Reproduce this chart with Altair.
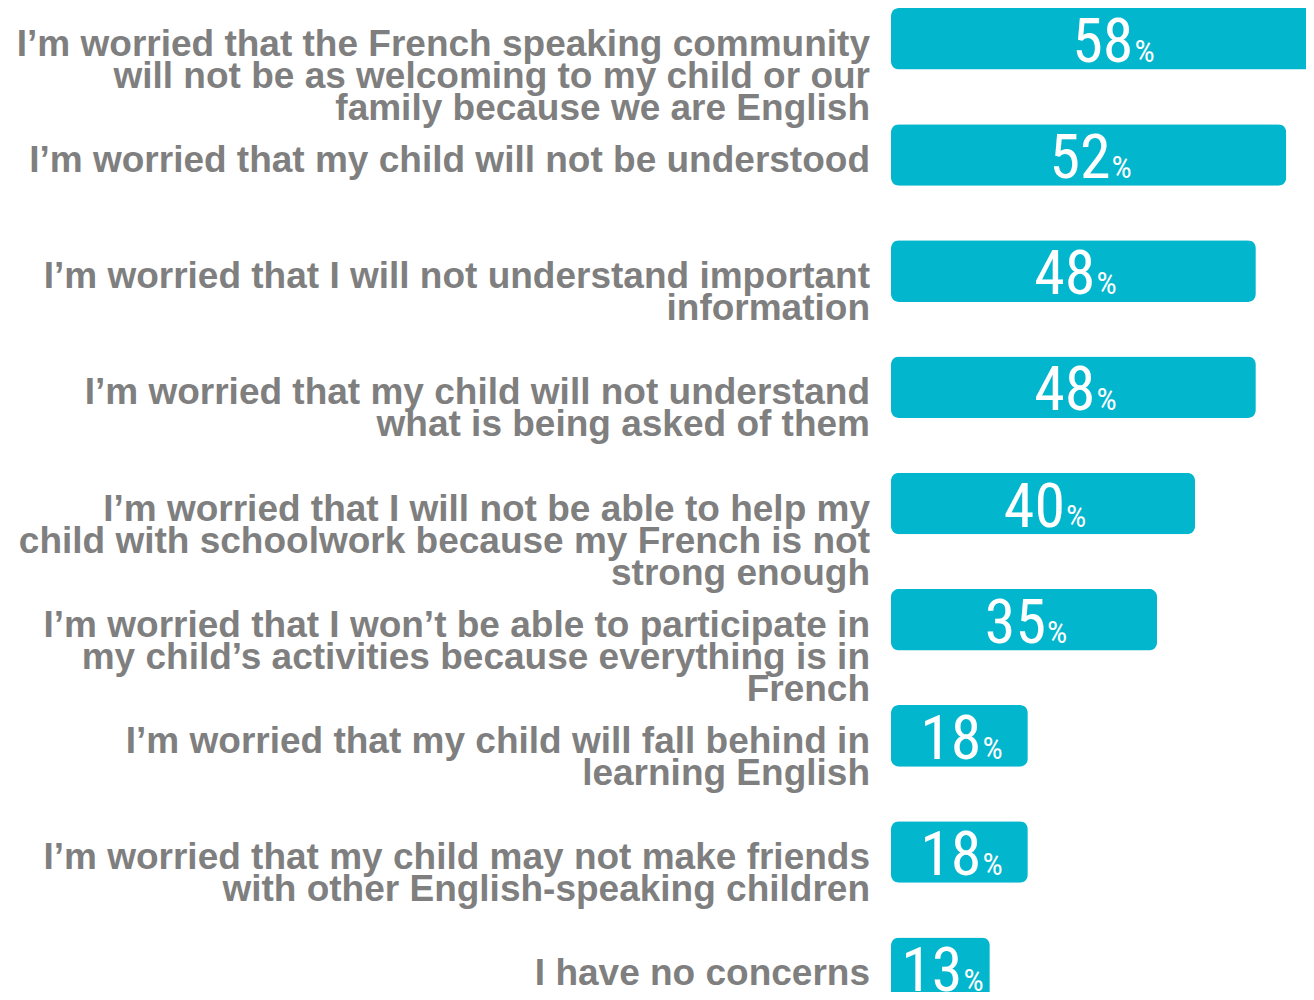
import altair as alt
import pandas as pd

labels = [
    "I’m worried that the French speaking community\nwill not be as welcoming to my child or our\nfamily because we are English",
    "I’m worried that my child will not be understood",
    "I’m worried that I will not understand important\ninformation",
    "I’m worried that my child will not understand\nwhat is being asked of them",
    "I’m worried that I will not be able to help my\nchild with schoolwork because my French is not\nstrong enough",
    "I’m worried that I won’t be able to participate in\nmy child’s activities because everything is in\nFrench",
    "I’m worried that my child will fall behind in\nlearning English",
    "I’m worried that my child may not make friends\nwith other English-speaking children",
    "I have no concerns",
]
values = [58, 52, 48, 48, 40, 35, 18, 18, 13]

df = pd.DataFrame({"key": list(range(len(labels))), "label": labels, "value": values})

BAR = "#02B6CD"
GRAY = "#7F7F7F"
NUMFONT = "Roboto Condensed"

y = alt.Y("key:O", axis=None, sort=None,
          scale=alt.Scale(paddingInner=0.47, paddingOuter=0, range=[0, 991]))
xscale = alt.Scale(domain=[0, 54.6], nice=False, zero=True)

base = alt.Chart(df).transform_calculate(
    half="datum.value / 2", num="toString(datum.value)"
)

bars = base.mark_bar(cornerRadius=8, color=BAR).encode(
    x=alt.X("value:Q", axis=None, scale=xscale),
    y=y,
)

label_text = base.mark_text(
    align="right", baseline="middle", lineBreak="\n",
    font="Liberation Sans", fontWeight="bold", fontSize=37, lineHeight=32,
    color=GRAY, dy=6,
).encode(
    x=alt.value(-21),
    y=y,
    text="label:N",
)

num_text = base.mark_text(
    align="right", baseline="alphabetic", font=NUMFONT, fontSize=62,
    color="white", dx=22, dy=23,
).encode(
    x=alt.X("half:Q", scale=xscale),
    y=y,
    text="num:N",
)

pct_text = base.mark_text(
    align="left", baseline="alphabetic", font=NUMFONT, fontSize=32,
    color="white", dx=23, dy=23,
).encode(
    x=alt.X("half:Q", scale=xscale),
    y=y,
    text=alt.value("%"),
)

chart = alt.layer(bars, label_text, num_text, pct_text).properties(
    width=415,
    height=984,
    autosize=alt.AutoSizeParams(type="none"),
    padding={"left": 883, "top": 0, "right": 0, "bottom": 0},
).configure_view(stroke=None)

chart.save("out.html", embed_options={"renderer": "svg", "actions": False})
